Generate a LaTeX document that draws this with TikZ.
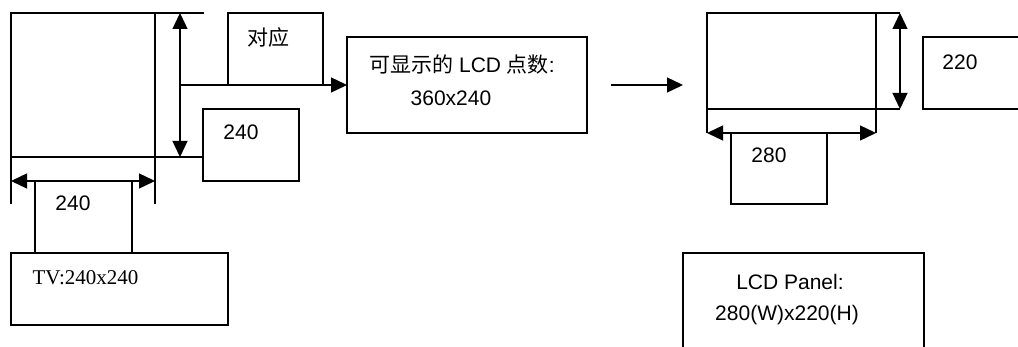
\documentclass[tikz,border=0pt]{standalone}
\usepackage{fontspec}
\setmainfont{Liberation Sans}
\newfontfamily\cjk{Noto Sans CJK SC}
\newfontfamily\tvfont{Liberation Serif}
\usetikzlibrary{arrows.meta}
\begin{document}
\begin{tikzpicture}[x=1pt,y=-1pt,line width=1.3pt,
  box/.style={draw,anchor=north west,inner sep=0pt,outer sep=0pt},
  lbl/.style={inner sep=0pt,font=\fontsize{21}{25}\selectfont},
  dim/.style={{Triangle[length=16pt,width=15pt]}-{Triangle[length=16pt,width=15pt]}},
  arr/.style={-{Triangle[length=16pt,width=15pt]}}]
\useasboundingbox (0,0) rectangle (1018,347);
\clip (0,0) rectangle (1018,347);
% left side: TV
\node[box,minimum width=144,minimum height=144] (tv) at (11,13) {};
\node[box,minimum width=95,minimum height=72] (dui) at (228,13) {};
\node[box,minimum width=96,minimum height=72] (hbox) at (203,109) {};
\node[box,minimum width=97,minimum height=72] (wbox) at (35,181) {};
\node[box,minimum width=217,minimum height=72] (tvbox) at (11,253) {};
\node[box,minimum width=240,minimum height=96] (lcd) at (347,37) {};
% texts
\node[lbl] (tdui) at (268,38) {\cjk 对应};
\node[lbl] (th) at (241,132) {240};
\node[lbl] (tw) at (73,203) {240};
\node[lbl,anchor=west] (ttv) at (32,278) {\tvfont TV:240x240};
\node[lbl] (tlcd1) at (462,65) {{\cjk 可显示的} LCD {\cjk 点数}:};
\node[lbl] (tlcd2) at (451,98) {360x240};
% extension lines and dimensions (TV)
\coordinate (ht) at (180,13);
\coordinate (hb) at (180,157);
\coordinate (hm) at (180,85);
\draw (tv.north east) -- (204,13);
\draw (tv.south east) -- (hbox.west |- tv.south east);
\draw[dim] (ht) -- (hb);
\draw[arr] (hm) -- (lcd.west);
\coordinate (wl) at (11,181);
\coordinate (wr) at (155,181);
\draw (tv.south west) -- (11,204);
\draw (tv.south east) -- (155,204);
\draw[dim] (wl) -- (wr);
% middle arrow
\coordinate (ma) at (611,85);
\coordinate (mb) at (683,85);
\draw[arr] (ma) -- (mb);
% right side: LCD panel
\node[box,minimum width=169,minimum height=96] (panel) at (707,13) {};
\node[box,minimum width=120,minimum height=72] (pbox) at (923,37) {};
\node[box,minimum width=96,minimum height=71] (qbox) at (731,133) {};
\node[box,minimum width=241,minimum height=120] (panelbox) at (683,253) {};
\node[lbl] (tp) at (960,62) {220};
\node[lbl] (tq) at (769,155) {280};
\node[lbl] (tpan1) at (790,282) {LCD Panel:};
\node[lbl] (tpan2) at (787,315) {280(W)x220(H)};
\coordinate (pt) at (900,13);
\coordinate (pb) at (900,109);
\draw (panel.north east) -- (pt);
\draw (panel.south east) -- (pb);
\draw[dim] (pt) -- (pb);
\coordinate (ql) at (707,133);
\coordinate (qr) at (876,133);
\draw (panel.south west) -- (ql);
\draw (panel.south east) -- (qr);
\draw[dim] (ql) -- (qr);
\end{tikzpicture}
\end{document}
